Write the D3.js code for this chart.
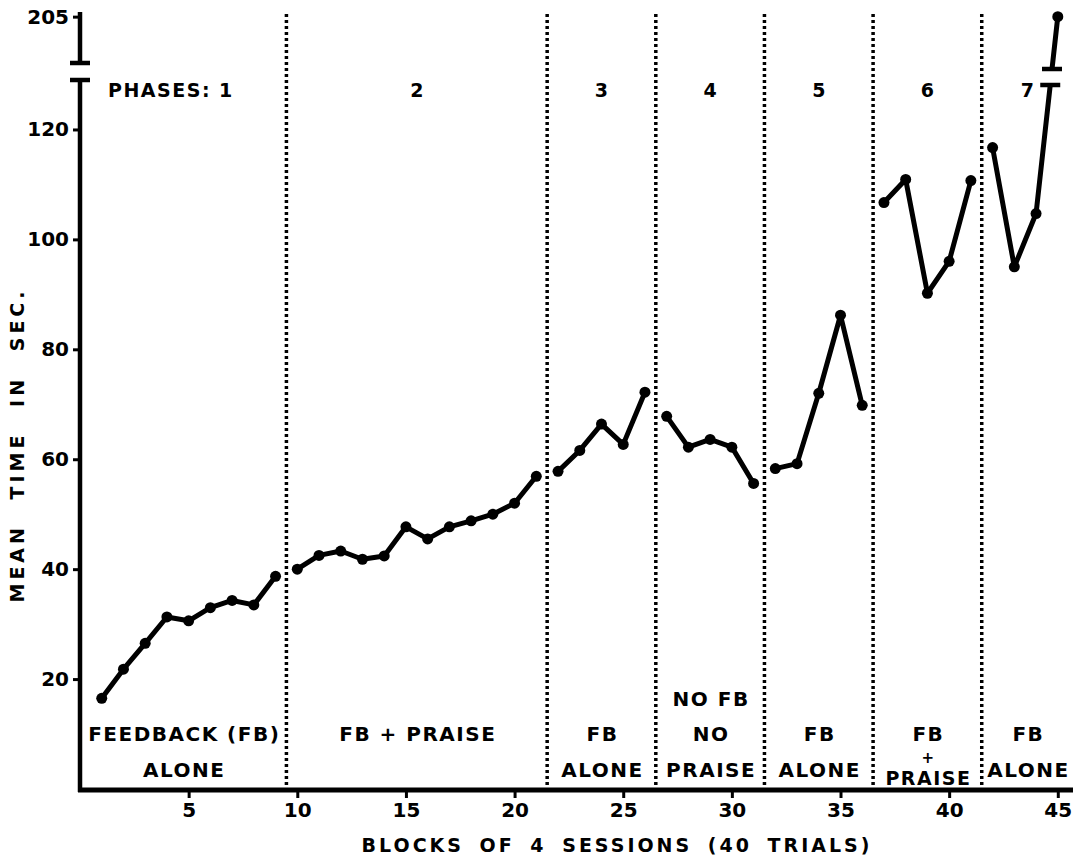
<!DOCTYPE html>
<html>
<head>
<meta charset="utf-8">
<script src="https://cdn.jsdelivr.net/npm/d3@7"></script>
<style>
body { margin: 0; background: #fff; }
svg text { font-family: "DejaVu Sans", sans-serif; font-weight: bold; fill: #000; }
</style>
</head>
<body>
<svg id="chart" width="1087" height="860"></svg>
<script>
// blocks of 4 sessions, mean time in seconds
var blocks = [1, 2, 3, 4, 5, 6, 7, 8, 9,
              10, 11, 12, 13, 14, 15, 16, 17, 18, 19, 20, 21,
              22, 23, 24, 25, 26,
              27, 28, 29, 30, 31,
              32, 33, 34, 35, 36,
              37, 38, 39, 40, 41,
              42, 43, 44, 45];
var meanTime = [16.5, 21.8, 26.5, 31.3, 30.6, 33.0, 34.3, 33.5, 38.7,
                40.0, 42.5, 43.3, 41.8, 42.4, 47.7, 45.5, 47.7, 48.8, 50.0, 52.0, 56.9,
                57.8, 61.6, 66.4, 62.7, 72.2,
                67.8, 62.2, 63.6, 62.2, 55.6,
                58.3, 59.2, 72.0, 86.2, 69.8,
                106.7, 110.9, 90.2, 96.0, 110.7,
                116.7, 95.0, 104.7, 205];

var phaseNames = ["1", "2", "3", "4", "5", "6", "7"];
var phaseFirst = [1, 10, 22, 27, 32, 37, 42];
var phaseLast  = [9, 21, 26, 31, 36, 41, 45];
var phaseLabels = [
    ["FEEDBACK (FB)", "ALONE"],
    ["FB + PRAISE"],
    ["FB", "ALONE"],
    ["NO FB", "NO", "PRAISE"],
    ["FB", "ALONE"],
    ["FB", "+", "PRAISE"],
    ["FB", "ALONE"]
];

var xTicks = [5, 10, 15, 20, 25, 30, 35, 40, 45];
var yTicks = [20, 40, 60, 80, 100, 120, 205];

var svg = d3.select("#chart");

var x = d3.scaleLinear()
    .domain([0, 45.7])
    .range([80, 1073]);

// broken axis: 0-129 on the lower part, 195-206 on the top stub
var y = d3.scaleLinear()
    .domain([0, 129, 195, 206])
    .range([789, 80, 63, 12]);

var data = blocks.map(function(b, i) { return {block: b, value: meanTime[i]}; });

// phase dividers
var dividers = phaseFirst.slice(1).map(function(f) { return f - 0.5; });
svg.append("g").selectAll("line")
    .data(dividers)
    .enter().append("line")
    .attr("x1", function(d) { return x(d); })
    .attr("x2", function(d) { return x(d); })
    .attr("y1", 14)
    .attr("y2", 787)
    .attr("stroke", "#000")
    .attr("stroke-width", 3.5)
    .attr("stroke-dasharray", "3,3");

// one line per phase
var line = d3.line()
    .x(function(d) { return x(d.block); })
    .y(function(d) { return y(d.value); });

var phaseData = phaseFirst.map(function(f, i) {
    return data.filter(function(d) { return d.block >= f && d.block <= phaseLast[i]; });
});

svg.append("g").selectAll("path")
    .data(phaseData)
    .enter().append("path")
    .attr("d", line)
    .attr("fill", "none")
    .attr("stroke", "#000")
    .attr("stroke-width", 5)
    .attr("stroke-linejoin", "round");

svg.append("g").selectAll("circle")
    .data(data)
    .enter().append("circle")
    .attr("cx", function(d) { return x(d.block); })
    .attr("cy", function(d) { return y(d.value); })
    .attr("r", 5.5)
    .attr("fill", "#000");

// break on the last segment of phase 7
var p1 = data[data.length - 2], p2 = data[data.length - 1];
function xAtY(py) {
    var ax = x(p1.block), ay = y(p1.value), bx = x(p2.block), by = y(p2.value);
    return ax + (py - ay) / (by - ay) * (bx - ax);
}
var breakLow = y(129) + 5, breakHigh = y(195) + 6;
svg.append("rect")
    .attr("x", xAtY(breakLow) - 8)
    .attr("y", breakHigh + 2)
    .attr("width", 16)
    .attr("height", breakLow - breakHigh - 4)
    .attr("fill", "#fff");
[breakLow, breakHigh].forEach(function(py) {
    var cx = xAtY(py);
    svg.append("line")
        .attr("x1", cx - 10).attr("x2", cx + 10)
        .attr("y1", py).attr("y2", py)
        .attr("stroke", "#000").attr("stroke-width", 4.5);
});

// y axis
var yAxis = svg.append("g")
    .attr("transform", "translate(" + x(0) + ",0)")
    .call(d3.axisLeft(y).tickValues(yTicks).tickSize(7).tickPadding(4));
yAxis.select(".domain").remove();
yAxis.selectAll(".tick line").attr("stroke-width", 3);
yAxis.selectAll(".tick text").style("font-size", "20px").attr("fill", "#000");

svg.append("line")
    .attr("x1", x(0)).attr("x2", x(0))
    .attr("y1", y(0) + 3).attr("y2", y(129))
    .attr("stroke", "#000").attr("stroke-width", 4.5);
svg.append("line")
    .attr("x1", x(0)).attr("x2", x(0))
    .attr("y1", y(195)).attr("y2", y(206))
    .attr("stroke", "#000").attr("stroke-width", 4.5);
[y(129), y(195)].forEach(function(py) {
    svg.append("line")
        .attr("x1", x(0) - 10).attr("x2", x(0) + 10)
        .attr("y1", py).attr("y2", py)
        .attr("stroke", "#000").attr("stroke-width", 4.5);
});

// x axis
var xAxis = svg.append("g")
    .attr("transform", "translate(0," + (y(0) + 1) + ")")
    .call(d3.axisBottom(x).tickValues(xTicks).tickSize(8).tickPadding(5));
xAxis.select(".domain").remove();
xAxis.selectAll(".tick line").attr("stroke-width", 3);
xAxis.selectAll(".tick text").style("font-size", "20px").attr("fill", "#000");

svg.append("line")
    .attr("x1", x(0) - 2).attr("x2", x(45.7))
    .attr("y1", y(0) + 1).attr("y2", y(0) + 1)
    .attr("stroke", "#000").attr("stroke-width", 5);

// phase numbers along the top
var phaseCenter = function(i) {
    var lo = i === 0 ? 0 : phaseFirst[i] - 0.5;
    var hi = i === phaseNames.length - 1 ? 45.7 : phaseLast[i] + 0.5;
    return (x(lo) + x(hi)) / 2;
};

svg.append("text")
    .attr("x", x(0) + 28)
    .attr("y", 97)
    .style("font-size", "19px")
    .style("letter-spacing", "1.5px")
    .text("PHASES: " + phaseNames[0]);

svg.append("g").selectAll("text")
    .data(phaseNames.slice(1))
    .enter().append("text")
    .attr("x", function(d, i) { return phaseCenter(i + 1); })
    .attr("y", 97)
    .attr("text-anchor", "middle")
    .style("font-size", "19px")
    .text(function(d) { return d; });

// condition labels at the bottom of each phase
phaseLabels.forEach(function(lines, i) {
    var ys, sizes;
    if (lines.length === 3 && lines[1] === "+") { ys = [741, 763, 785]; sizes = [20, 15, 19]; }
    else if (lines.length === 3) { ys = [706, 741, 777]; sizes = [20, 20, 20]; }
    else { ys = [741, 777]; sizes = [20, 20]; }
    lines.forEach(function(t, j) {
        svg.append("text")
            .attr("x", phaseCenter(i) + 1)
            .attr("y", ys[j])
            .attr("text-anchor", "middle")
            .style("font-size", sizes[j] + "px")
            .style("letter-spacing", "1.5px")
            .text(t);
    });
});

// axis titles
svg.append("text")
    .attr("x", 617)
    .attr("y", 852)
    .attr("text-anchor", "middle")
    .style("font-size", "19px")
    .style("letter-spacing", "3px")
    .style("word-spacing", "6px")
    .text("BLOCKS OF 4 SESSIONS (40 TRIALS)");

svg.append("text")
    .attr("transform", "translate(24,445) rotate(-90)")
    .attr("text-anchor", "middle")
    .style("font-size", "19px")
    .style("letter-spacing", "4px")
    .style("word-spacing", "14px")
    .text("MEAN TIME IN SEC.");
</script>
</body>
</html>
